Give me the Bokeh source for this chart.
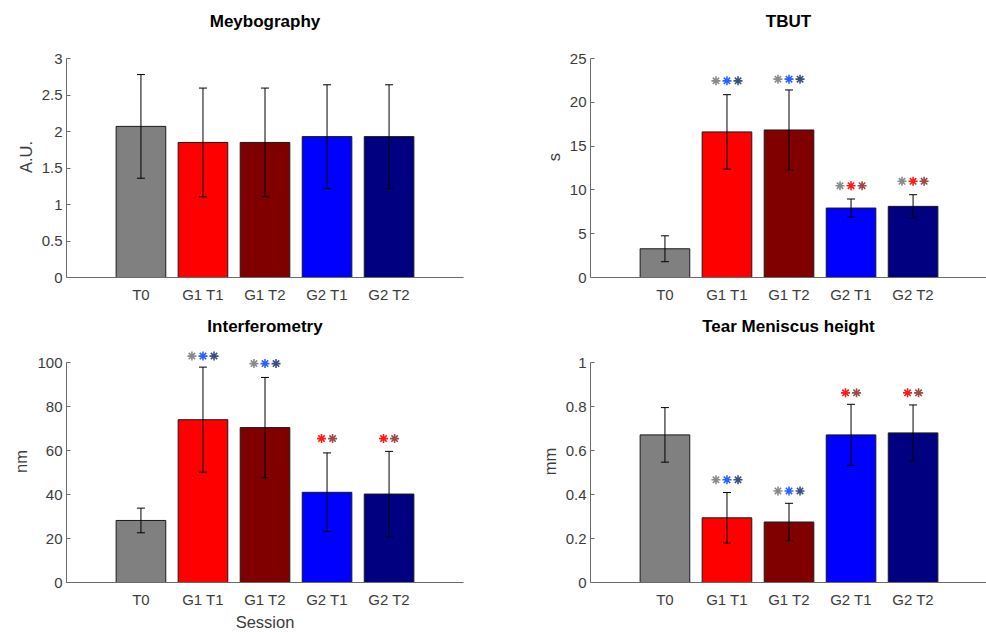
from bokeh.plotting import figure
from bokeh.models import (ColumnDataSource, Whisker, TeeHead, Range1d, FixedTicker,
                          NumeralTickFormatter)
from bokeh.layouts import column, row
from bokeh.embed import file_html
from bokeh.resources import INLINE

# ---------------- data ----------------
sessions = ["T0", "G1 T1", "G1 T2", "G2 T1", "G2 T2"]
bar_colors = ["#808080", "#ff0000", "#800000", "#0000ff", "#000080"]

meibo_mean = [2.07, 1.85, 1.85, 1.93, 1.93]
meibo_sd = [0.71, 0.745, 0.745, 0.71, 0.71]
meibo_ticks = [0, 0.5, 1, 1.5, 2, 2.5, 3]

tbut_mean = [3.28, 16.62, 16.84, 7.93, 8.12]
tbut_sd = [1.48, 4.25, 4.57, 1.03, 1.33]
tbut_ticks = [0, 5, 10, 15, 20, 25]

interf_mean = [28.2, 74.0, 70.4, 41.0, 40.2]
interf_sd = [5.6, 23.9, 22.8, 17.9, 19.4]
interf_ticks = [0, 20, 40, 60, 80, 100]

tmh_mean = [0.671, 0.294, 0.275, 0.671, 0.680]
tmh_sd = [0.124, 0.115, 0.085, 0.139, 0.127]
tmh_ticks = [0, 0.2, 0.4, 0.6, 0.8, 1]

# significance asterisks: bar, height, colours
star_gray = "#8a8a8a"
star_blue = "#2a62ff"
star_navy = "#3a4f86"
star_red = "#ff1a1a"
star_dred = "#a04848"

tbut_star_bars = ["G1 T1", "G1 T2", "G2 T1", "G2 T2"]
tbut_star_y = [22.45, 22.64, 10.48, 10.98]
tbut_star_cols = [[star_gray, star_blue, star_navy], [star_gray, star_blue, star_navy],
                  [star_gray, star_red, star_dred], [star_gray, star_red, star_dred]]

interf_star_bars = ["G1 T1", "G1 T2", "G2 T1", "G2 T2"]
interf_star_y = [102.9, 99.5, 65.4, 65.4]
interf_star_cols = [[star_gray, star_blue, star_navy], [star_gray, star_blue, star_navy],
                    [star_red, star_dred], [star_red, star_dred]]

tmh_star_bars = ["G1 T1", "G1 T2", "G2 T1", "G2 T2"]
tmh_star_y = [0.467, 0.416, 0.862, 0.862]
tmh_star_cols = [[star_gray, star_blue, star_navy], [star_gray, star_blue, star_navy],
                 [star_red, star_dred], [star_red, star_dred]]

# ---------------- styling ----------------
FONT = "Liberation Sans"
AXIS_COL = "#6a6a6a"
TEXT_COL = "#3c3c3c"
X_START = -0.2
PX_PER_UNIT = 397 / 6.4
EXTRA = 22


def panel(title, ylabel, means, sds, ymax, yticks, star_bars, star_y, star_cols,
          frame_left, frame_w, border_right, axis_top, axis_h, border_bottom,
          title_standoff, xlabel=None):
    xs = list(range(1, len(sessions) + 1))
    src = ColumnDataSource(dict(
        x=xs, mean=means, color=bar_colors,
        upper=[m + s for m, s in zip(means, sds)],
        lower=[m - s for m, s in zip(means, sds)],
    ))
    frame_h = axis_h + EXTRA
    y_end = ymax * frame_h / axis_h
    x_end = X_START + frame_w / PX_PER_UNIT
    p = figure(frame_width=frame_w, frame_height=frame_h,
               min_border_left=frame_left, min_border_right=border_right,
               min_border_top=axis_top - EXTRA, min_border_bottom=border_bottom,
               x_range=Range1d(X_START, x_end), y_range=Range1d(0, y_end),
               output_backend="svg", toolbar_location=None, title=title)
    p.outline_line_color = None
    p.background_fill_color = "white"
    p.border_fill_color = "white"
    p.xgrid.visible = False
    p.ygrid.visible = False

    p.title.align = "center"
    p.title.text_font = FONT
    p.title.text_font_size = "17px"
    p.title.text_font_style = "bold"
    p.title.text_color = "black"
    p.title.standoff = title_standoff

    p.vbar(x="x", top="mean", width=0.8, fill_color="color", line_color="#1a1a1a",
           line_width=1, source=src)
    p.add_layout(Whisker(base="x", upper="upper", lower="lower", source=src,
                         level="annotation",
                         line_color="black", line_width=1,
                         upper_head=TeeHead(size=8, line_color="black", line_width=1),
                         lower_head=TeeHead(size=8, line_color="black", line_width=1)))

    # asterisks
    sx, sy, sc = [], [], []
    for b, yv, cols in zip(star_bars, star_y, star_cols):
        c = sessions.index(b) + 1
        k = len(cols)
        for j, col in enumerate(cols):
            sx.append(c + (j - (k - 1) / 2) * 0.178)
            sy.append(yv)
            sc.append(col)
    if sx:
        p.scatter(x=sx, y=sy, marker="asterisk", size=9, line_color=sc, line_width=1.6)

    # axes
    xa = p.xaxis[0]
    xa.ticker = FixedTicker(ticks=xs)
    xa.major_label_overrides = {i: s for i, s in zip(xs, sessions)}
    xa.major_tick_in = 0
    xa.major_tick_out = 0
    xa.minor_tick_line_color = None
    xa.axis_line_color = AXIS_COL
    xa.major_label_text_font = FONT
    xa.major_label_text_font_size = "15px"
    xa.major_label_text_color = TEXT_COL
    xa.major_label_standoff = 8
    if xlabel:
        xa.axis_label = xlabel
        xa.axis_label_text_font = FONT
        xa.axis_label_text_font_size = "16.5px"
        xa.axis_label_text_font_style = "normal"
        xa.axis_label_text_color = TEXT_COL
        xa.axis_label_standoff = 2

    ya = p.yaxis[0]
    ya.bounds = (0, ymax)
    ya.ticker = FixedTicker(ticks=yticks)
    ya.formatter = NumeralTickFormatter(format="0.[0]")
    ya.major_tick_in = 4
    ya.major_tick_out = 0
    ya.major_tick_line_color = AXIS_COL
    ya.minor_tick_line_color = None
    ya.axis_line_color = AXIS_COL
    ya.major_label_text_font = FONT
    ya.major_label_text_font_size = "15px"
    ya.major_label_text_color = TEXT_COL
    ya.major_label_standoff = 4
    ya.axis_label = ylabel
    ya.axis_label_text_font = FONT
    ya.axis_label_text_font_size = "16.5px"
    ya.axis_label_text_font_style = "normal"
    ya.axis_label_text_color = TEXT_COL
    ya.axis_label_standoff = 4
    return p


p1 = panel("Meybography", "A.U.", meibo_mean, meibo_sd, 3, meibo_ticks, [], [], [],
           frame_left=66, frame_w=397, border_right=34, axis_top=58, axis_h=219,
           border_bottom=31, title_standoff=11)
p2 = panel("TBUT", "s", tbut_mean, tbut_sd, 25, tbut_ticks,
           tbut_star_bars, tbut_star_y, tbut_star_cols,
           frame_left=93, frame_w=396, border_right=0, axis_top=58, axis_h=219,
           border_bottom=31, title_standoff=11)
p3 = panel("Interferometry", "nm", interf_mean, interf_sd, 100, interf_ticks,
           interf_star_bars, interf_star_y, interf_star_cols,
           frame_left=66, frame_w=397, border_right=34, axis_top=54, axis_h=220,
           border_bottom=50, title_standoff=10, xlabel="Session")
p4 = panel("Tear Meniscus height", "mm", tmh_mean, tmh_sd, 1, tmh_ticks,
           tmh_star_bars, tmh_star_y, tmh_star_cols,
           frame_left=93, frame_w=396, border_right=0, axis_top=54, axis_h=220,
           border_bottom=50, title_standoff=10)

layout = column(row(p1, p2), row(p3, p4))

with open("out.html", "w") as f:
    f.write(file_html(layout, INLINE))
